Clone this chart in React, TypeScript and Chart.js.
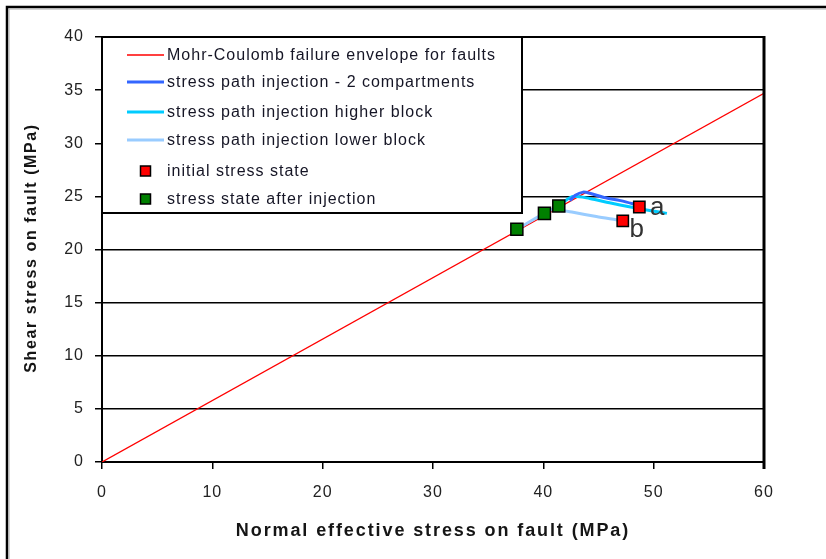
import React, { useEffect, useRef } from 'react';
import { Chart, registerables } from 'chart.js';

Chart.register(...registerables);

// ---- data ----
const envelopeX = [0, 60];
const envelopeY = [0, 34.7];

const twoCompX = [42.4, 42.9, 43.6, 44.2, 45.5, 47.0, 48.1, 48.7];
const twoCompY = [24.6, 25.1, 25.4, 25.3, 24.9, 24.6, 24.3, 24.1];

const higherX = [41.4, 42.0, 42.7, 44.2, 46.0, 47.9, 49.5, 51.2];
const higherY = [24.1, 24.6, 25.0, 24.8, 24.4, 24.0, 23.7, 23.4];

const lowerX = [37.6, 40.1, 41.4, 41.7, 42.7, 44.8, 46.6, 47.2];
const lowerY = [21.9, 23.4, 24.0, 23.7, 23.5, 23.1, 22.8, 22.7];

const initialX = [48.7, 47.2];
const initialY = [24.0, 22.7];
const initialLabels = ['a', 'b'];

const afterX = [37.6, 40.1, 41.4];
const afterY = [21.9, 23.4, 24.1];

const seriesNames = [
  'Mohr-Coulomb failure envelope for faults',
  'stress path injection - 2 compartments',
  'stress path injection higher block',
  'stress path injection lower block',
  'initial stress state',
  'stress state after injection',
];

const xTitle = 'Normal effective stress on fault (MPa)';
const yTitle = 'Shear stress on fault (MPa)';

const xMin = 0, xMax = 60, xStep = 10;
const yMin = 0, yMax = 40, yStep = 5;

const pts = (xs: number[], ys: number[]) => xs.map((x, i) => ({ x, y: ys[i] }));

const FONT = '"Liberation Sans", Arial, sans-serif';

const decorPlugin = {
  id: 'decor',
  beforeDraw(chart: any) {
    const ctx = chart.ctx;
    ctx.save();
    ctx.fillStyle = '#ffffff';
    ctx.fillRect(0, 0, chart.width, chart.height);
    ctx.strokeStyle = '#000';
    ctx.lineWidth = 2.5;
    ctx.beginPath();
    ctx.moveTo(7, chart.height + 5);
    ctx.lineTo(7, 7);
    ctx.lineTo(chart.width + 5, 7);
    ctx.stroke();
    ctx.strokeStyle = '#aaa';
    ctx.lineWidth = 1;
    ctx.beginPath();
    ctx.moveTo(9, chart.height + 5);
    ctx.lineTo(9, 9);
    ctx.lineTo(chart.width + 5, 9);
    ctx.stroke();
    ctx.restore();
    (ctx as any).letterSpacing = '1px';
  },
  afterDraw(chart: any) {
    const ctx = chart.ctx;
    const ca = chart.chartArea;
    const xs = chart.scales.x;
    const ys = chart.scales.y;
    ctx.save();
    // right border
    ctx.strokeStyle = '#000';
    ctx.lineWidth = 3;
    ctx.beginPath();
    ctx.moveTo(ca.right, ca.top - 1);
    ctx.lineTo(ca.right, ca.bottom + 7);
    ctx.stroke();
    ctx.lineWidth = 2;
    ctx.beginPath();
    ctx.moveTo(ca.left, ca.top);
    ctx.lineTo(ca.right, ca.top);
    ctx.stroke();

    // a / b labels
    const offs = [[18, 8], [14, 16]];
    ctx.fillStyle = '#333';
    ctx.font = `26px ${FONT}`;
    (ctx as any).letterSpacing = '0px';
    ctx.textAlign = 'center';
    ctx.textBaseline = 'alphabetic';
    initialLabels.forEach((t, i) => {
      const px = xs.getPixelForValue(initialX[i]);
      const py = ys.getPixelForValue(initialY[i]);
      ctx.fillText(t, px + offs[i][0], py + offs[i][1]);
    });

    // legend box
    const lx0 = ca.left, ly0 = ca.top, lx1 = 522, ly1 = 213;
    ctx.fillStyle = '#fff';
    ctx.fillRect(lx0, ly0, lx1 - lx0, ly1 - ly0);
    ctx.strokeStyle = '#000';
    ctx.lineWidth = 2;
    ctx.strokeRect(lx0, ly0, lx1 - lx0, ly1 - ly0);

    const ds = chart.data.datasets;
    const rowsY = [55, 82, 112, 140, 171, 199];
    ctx.font = `16px ${FONT}`;
    (ctx as any).letterSpacing = '1px';
    ctx.textAlign = 'left';
    ctx.textBaseline = 'middle';
    rowsY.forEach((ry, i) => {
      const d = ds[i];
      if (d.showLine) {
        ctx.strokeStyle = d.borderColor;
        ctx.lineWidth = d.borderWidth;
        ctx.beginPath();
        ctx.moveTo(127, ry);
        ctx.lineTo(164, ry);
        ctx.stroke();
      } else {
        ctx.fillStyle = d.backgroundColor;
        ctx.fillRect(140.5, ry - 5, 10, 10);
        ctx.strokeStyle = '#000';
        ctx.lineWidth = 1.5;
        ctx.strokeRect(140.5, ry - 5, 10, 10);
      }
      ctx.fillStyle = '#151525';
      ctx.fillText(d.label, 167, ry + 1);
    });

    // axis titles
    ctx.fillStyle = '#151515';
    ctx.textAlign = 'center';
    ctx.textBaseline = 'middle';
    ctx.font = `bold 18px ${FONT}`;
    (ctx as any).letterSpacing = '1.9px';
    ctx.fillText(xTitle, (ca.left + ca.right) / 2, 531);
    ctx.save();
    ctx.translate(32, 248);
    ctx.rotate(-Math.PI / 2);
    ctx.font = `bold 16px ${FONT}`;
    (ctx as any).letterSpacing = '1.6px';
    ctx.fillText(yTitle, 0, 0);
    ctx.restore();
    ctx.restore();
    (ctx as any).letterSpacing = '0px';
  },
};

export default function App() {
  const ref = useRef<HTMLCanvasElement | null>(null);
  useEffect(() => {
    const canvas = ref.current!;
    const chart = new Chart(canvas, {
      type: 'scatter',
      data: {
        datasets: [
          {
            label: seriesNames[0],
            data: pts(envelopeX, envelopeY),
            showLine: true,
            borderColor: '#FF0000',
            backgroundColor: '#FF0000',
            borderWidth: 1.3,
            pointRadius: 0,
            order: 10,
          },
          {
            label: seriesNames[1],
            data: pts(twoCompX, twoCompY),
            showLine: true,
            borderColor: '#3366FF',
            backgroundColor: '#3366FF',
            borderWidth: 3,
            pointRadius: 0,
            tension: 0.3,
            order: 7,
          },
          {
            label: seriesNames[2],
            data: pts(higherX, higherY),
            showLine: true,
            borderColor: '#00CCFF',
            backgroundColor: '#00CCFF',
            borderWidth: 3,
            pointRadius: 0,
            tension: 0.3,
            order: 8,
          },
          {
            label: seriesNames[3],
            data: pts(lowerX, lowerY),
            showLine: true,
            borderColor: '#99CCFF',
            backgroundColor: '#99CCFF',
            borderWidth: 3,
            pointRadius: 0,
            tension: 0.3,
            order: 9,
          },
          {
            label: seriesNames[4],
            data: pts(initialX, initialY),
            showLine: false,
            pointStyle: 'rect',
            pointRadius: 8,
            backgroundColor: '#FF0000',
            borderColor: '#000',
            borderWidth: 1.5,
            order: 1,
          },
          {
            label: seriesNames[5],
            data: pts(afterX, afterY),
            showLine: false,
            pointStyle: 'rect',
            pointRadius: 8.5,
            backgroundColor: '#008000',
            borderColor: '#000',
            borderWidth: 1.5,
            order: 2,
          },
        ],
      },
      options: {
        responsive: false,
        animation: false,
        devicePixelRatio: 1,
        layout: { padding: { left: 0, top: 37, right: 62, bottom: 0 } },
        plugins: {
          legend: { display: false },
          tooltip: { enabled: false },
          title: { display: false },
        },
        scales: {
          x: {
            type: 'linear',
            min: xMin,
            max: xMax,
            ticks: {
              stepSize: xStep,
              padding: 14,
              color: '#222',
              font: { family: FONT, size: 16 },
              maxRotation: 0,
            },
            grid: {
              drawOnChartArea: false,
              drawTicks: true,
              tickLength: 7,
              color: '#000',
              lineWidth: 1.5,
            },
            border: { display: true, color: '#000', width: 2 },
            afterFit: (s: any) => {
              s.height = 97;
            },
          },
          y: {
            type: 'linear',
            min: yMin,
            max: yMax,
            ticks: {
              stepSize: yStep,
              padding: 11,
              color: '#222',
              font: { family: FONT, size: 16 },
            },
            grid: {
              drawOnChartArea: true,
              drawTicks: true,
              tickLength: 7,
              color: '#000',
              lineWidth: 1.5,
            },
            border: { display: true, color: '#000', width: 2 },
            afterFit: (s: any) => {
              s.width = 102;
            },
          },
        },
      },
      plugins: [decorPlugin],
    });
    return () => chart.destroy();
  }, []);
  return (
    <div style={{ position: 'fixed', left: 0, top: 0, width: 826, height: 559, background: '#fff' }}>
      <canvas ref={ref} width={826} height={559} style={{ display: 'block', width: 826, height: 559 }} />
    </div>
  );
}
